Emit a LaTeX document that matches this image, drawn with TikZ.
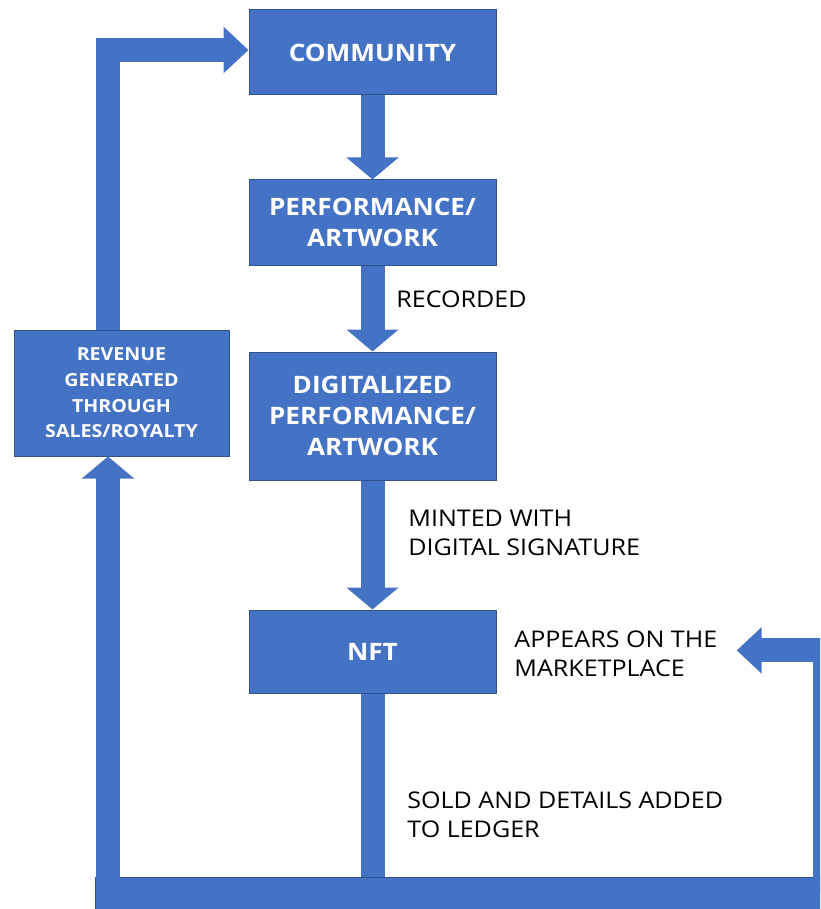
\documentclass[tikz,border=0pt]{standalone}
\usepackage{fontspec}
\setmainfont{Open Sans}[FakeStretch=1.09]
\usepackage{tikz}
\definecolor{boxblue}{HTML}{4472C4}
\definecolor{boxedge}{HTML}{2F528F}
\usetikzlibrary{arrows.meta}
\tikzstyle{box}=[rectangle, draw=boxedge, line width=0.5pt, fill=boxblue, text=white, align=center, inner sep=0pt, minimum width=123.5pt, font=\bfseries\fontsize{12}{15.5}\selectfont]
\tikzstyle{note}=[inner sep=0pt, anchor=north west, align=left, font=\fontsize{11.5}{14.5}\selectfont]
\tikzstyle{shaft}=[draw=boxblue, line width=12pt, line join=miter]
\tikzstyle{flow}=[shaft, -{Triangle[length=11pt, width=25.5pt]}]
\tikzstyle{elbow}=[shaft, -{Triangle[length=12.5pt, width=22.5pt]}]

\begin{document}
\begin{tikzpicture}[x=0.5pt, y=-0.5pt]
			\useasboundingbox (0,0) rectangle (820,909);
			\clip (0,0) rectangle (820,909);
			\fill[white] (0,0) rectangle (820,909);
			% boxes
			\node[box, minimum height=42.5pt] (com) at (372.5,52.5) {COMMUNITY};
			\node[box, minimum height=42.5pt] (perf) at (372.5,222.5) {PERFORMANCE/\\ARTWORK};
			\node[box, minimum height=64pt] (dig) at (372.5,416) {DIGITALIZED\\PERFORMANCE/\\ARTWORK};
			\node[box, minimum height=41.5pt] (nft) at (372.5,651.5) {NFT};
			\node[box, minimum width=107.5pt, minimum height=63pt, font=\bfseries\fontsize{9}{12.8}\selectfont] (rev) at (121.5,393) {REVENUE\\GENERATED\\THROUGH\\SALES/ROYALTY};
			\node[box, minimum width=372.5pt, minimum height=26.5pt] (ledger) at (467.5,903.5) {};
			% labels
			\node[note, anchor=base west] (rec) at (396,307) {RECORDED};
			\node[note] (mint) at (408,510) {MINTED WITH\\DIGITAL SIGNATURE};
			\node[note] (market) at (514,630) {APPEARS ON THE\\MARKETPLACE};
			\node[note] (sold) at (407,791) {SOLD AND DETAILS ADDED\\TO LEDGER};
			\coordinate (lfoot) at (108,896);
			\coordinate (rfoot) at (825,893);
			% arrows
			\draw[flow] (com) -- (perf);
			\draw[flow] (perf) -- (dig);
			\draw[flow] (dig) -- (nft);
			\draw[shaft] (nft.south) -- (nft.south |- ledger.north);
			\draw[flow] (lfoot) -- ([xshift=-6.75pt]rev.south);
			\draw[elbow] ([xshift=-6.75pt]rev.north) |- ([yshift=1.25pt]com.west);
			\draw[elbow] (rfoot) |- ([xshift=9.5pt,yshift=1.5pt]market.east);
		\end{tikzpicture}
\end{document}
